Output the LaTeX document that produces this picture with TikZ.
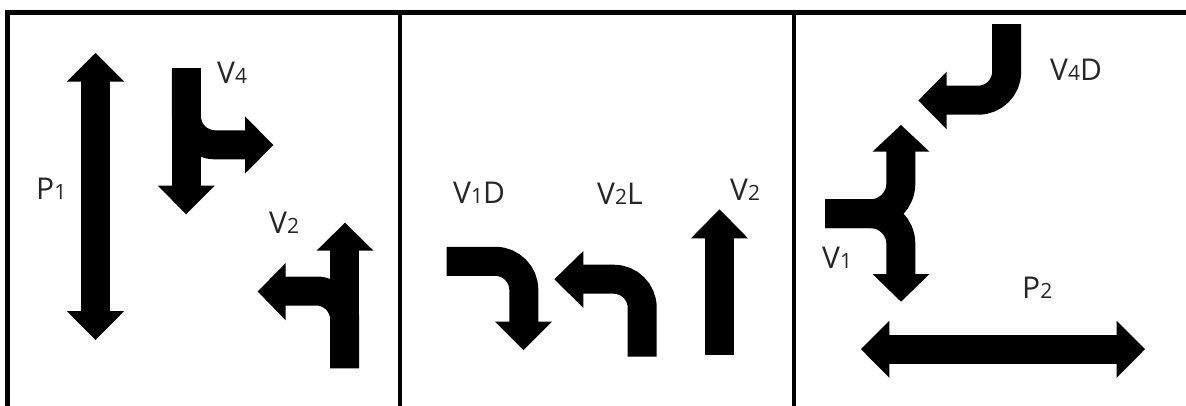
\documentclass[tikz,border=0pt]{standalone}
\usepackage{fontspec}
\setmainfont{Open Sans}
\newcommand{\smdig}[1]{{\fontsize{21}{22}\selectfont #1}}
\begin{document}
\begin{tikzpicture}[x=1pt,y=-1pt,
  frame/.style={line width=4.5pt,black},
  shaft/.style={line width=29pt,black,line cap=butt,line join=miter},
  bendshaft/.style={shaft,rounded corners=28.5pt},
  head/.style={fill=black,draw=none},
  lab/.style={font=\fontsize{30}{32}\selectfont,text=black!85,inner sep=0pt,anchor=base west}]
\useasboundingbox (0,0) rectangle (1186,405);
% frame
\draw[frame] (7.5,412) -- (7.5,12.5) -- (1192,12.5);
\draw[frame] (400,12.5) -- (400,412);
\draw[frame] (794,12.5) -- (794,412);

% ---------- panel 1 ----------
% P1 double arrow
\draw[shaft] (95.5,75) -- (95.5,317);
\fill[head] (95.5,53) -- (124.2,81.5) -- (66.8,81.5) -- cycle;
\fill[head] (95.5,340) -- (124.2,311) -- (66.8,311) -- cycle;
\node[lab] (p1) at (36,199.5) {P\smdig{1}};
% V4
\draw[shaft] (186.4,68.3) -- (186.4,192);
\fill[head] (186.2,214.3) -- (214.6,185.7) -- (157.8,185.7) -- cycle;
\draw[bendshaft] (186.4,68.3) -- (186.4,144.8) -- (250,144.8);
\fill[head] (273.3,145) -- (245,116.3) -- (245,173.7) -- cycle;
\node[lab] (v4) at (217,83) {V\smdig{4}};
% V2
\draw[shaft] (344.7,368.3) -- (344.7,245);
\fill[head] (345,222.7) -- (373.5,250.7) -- (316.5,250.7) -- cycle;
\draw[bendshaft] (344.7,368.3) -- (344.7,291) -- (280,291);
\fill[head] (257.7,291.5) -- (285.7,263) -- (285.7,320.3) -- cycle;
\node[lab] (v2a) at (269,233) {V\smdig{2}};

% ---------- panel 2 ----------
% V1D
\draw[bendshaft] (446.7,261.3) -- (523.8,261.3) -- (523.8,327);
\fill[head] (523.5,350) -- (552,321.7) -- (495,321.7) -- cycle;
\node[lab] (v1d) at (453,203) {V\smdig{1}D};
% V2L
\draw[bendshaft] (642.2,356.7) -- (642.2,279.2) -- (578,279.2);
\fill[head] (554.3,279.3) -- (583.3,251) -- (583.3,307.8) -- cycle;
\node[lab] (v2l) at (597,204) {V\smdig{2}L};
% V2
\draw[shaft] (719.7,355) -- (719.7,233);
\fill[head] (719.5,209.3) -- (748,238.3) -- (691,238.3) -- cycle;
\node[lab] (v2b) at (730,200) {V\smdig{2}};

% ---------- panel 3 ----------
% V4D
\draw[bendshaft] (1006.7,24) -- (1006.7,100.2) -- (941,100.2);
\fill[head] (918.3,100.5) -- (946.7,71.7) -- (946.7,129.3) -- cycle;
\node[lab] (v4d) at (1050,80) {V\smdig{4}D};
% V1
\draw[shaft,rounded corners=30pt] (825,213.7) -- (900.8,213.7) -- (900.8,146);
\draw[shaft,rounded corners=30pt] (825,213.7) -- (900.8,213.7) -- (900.8,280);
\fill[head] (901,125) -- (929.5,151.7) -- (872.5,151.7) -- cycle;
\fill[head] (901,301.7) -- (929.5,274) -- (872.5,274) -- cycle;
\node[lab] (v1) at (822,268) {V\smdig{1}};
% P2 double arrow
\draw[shaft] (884,349.2) -- (1122,349.2);
\fill[head] (861,349.2) -- (889.3,320.8) -- (889.3,377.8) -- cycle;
\fill[head] (1145,349.2) -- (1116.7,320.8) -- (1116.7,377.8) -- cycle;
\node[lab] (p2) at (1022,298) {P\smdig{2}};
\end{tikzpicture}
\end{document}
